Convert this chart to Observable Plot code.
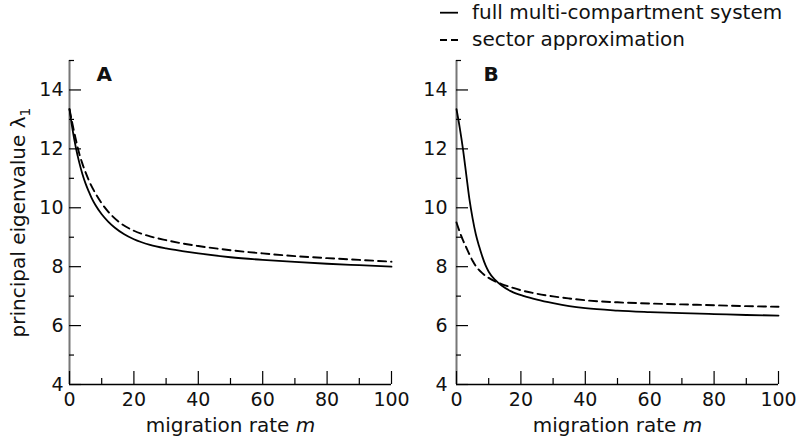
<!DOCTYPE html>
<html><head><meta charset="utf-8">
<script src="https://cdn.jsdelivr.net/npm/d3@7"></script>
<script src="https://cdn.jsdelivr.net/npm/@observablehq/plot@0.6"></script>
<style>
body{margin:0;background:#fff;}
#wrap{position:relative;width:800px;height:439px;overflow:hidden;font-family:"DejaVu Sans",sans-serif;background:#fff;}
#wrap > svg{position:absolute;top:0;}
</style></head><body><div id="wrap"></div>
<script>
// Panel A — full multi-compartment system (solid)
const mSolidA = [0,1,2,3,4,5,6,7,8,10,12,14,17,20,25,30,35,40,50,60,70,80,90,100];
const solidA  = [13.35,12.62,12.03,11.55,11.15,10.82,10.55,10.3,10.1,9.78,9.53,9.33,9.1,8.93,8.74,8.62,8.53,8.45,8.32,8.23,8.16,8.1,8.05,8.0];
// Panel A — sector approximation (dashed)
const mDashA  = [0,1,2,3,4,5,6,8,10,12,15,20,25,30,35,40,50,60,70,80,90,100];
const dashA   = [13.35,12.8,12.3,11.85,11.5,11.2,10.93,10.5,10.15,9.87,9.55,9.22,9.03,8.9,8.79,8.7,8.56,8.45,8.36,8.29,8.23,8.17];
// Panel B — full multi-compartment system (solid)
const mSolidB = [0,1,2,3,4,5,6,7,8,9,10,12,14,17,21,25,30,35,40,50,60,70,80,90,100];
const solidB  = [13.35,12.72,12.0,11.15,10.3,9.64,9.1,8.7,8.35,8.05,7.83,7.55,7.36,7.16,7.0,6.88,6.76,6.66,6.59,6.51,6.46,6.42,6.39,6.36,6.34];
// Panel B — sector approximation (dashed)
const mDashB  = [0,1,2,3,4,5,6,8,10,12,14,17,20,25,30,35,40,50,60,70,80,90,100];
const dashB   = [9.5,9.18,8.9,8.66,8.42,8.2,8.02,7.78,7.62,7.5,7.41,7.3,7.2,7.08,6.99,6.92,6.86,6.79,6.75,6.72,6.69,6.66,6.64];

const yMajor = [4,6,8,10,12,14];
const yMinor = [5,7,9,11,13,15];
const xMajor = [0,20,40,60,80,100];
const xMinor = [10,30,50,70,90];
const legendLabels = ["full multi-compartment system","sector approximation"];
const panelLetters = ["A","B"];
const xLabel = "migration rate m";
const yLabel = "principal eigenvalue λ1";

const rows = (ms, vs) => ms.map((m, i) => ({m, v: vs[i]}));

function panel({solid, dashed, letter, marginLeft, marginRight, tickPad, withYLabel}) {
  const marks = [
    Plot.ruleY([4], {stroke: "#000", strokeWidth: 1.5}),
    Plot.ruleX([0], {stroke: "#777", strokeWidth: 2}),
    Plot.axisY(yMajor, {tickSize: -12, fill: null, stroke: "#000", strokeWidth: 1.2, label: null}),
    Plot.axisY(yMinor, {tickSize: -5, fill: null, stroke: "#000", strokeWidth: 1.2, label: null}),
    Plot.axisX(xMajor, {tickSize: -13, fill: null, stroke: "#000", strokeWidth: 1.2, label: null}),
    Plot.axisX(xMinor, {tickSize: -6, fill: null, stroke: "#000", strokeWidth: 1.2, label: null}),
    Plot.text(yMajor, {y: d => d, text: d => `${d}`, frameAnchor: "left", dx: -tickPad, textAnchor: "end", lineAnchor: "middle", fontSize: 19, fill: "#111"}),
    Plot.text(xMajor, {x: d => d, text: d => `${d}`, frameAnchor: "bottom", dy: 8, textAnchor: "middle", lineAnchor: "top", fontSize: 19, fill: "#111"}),
    Plot.line(solid, {x: "m", y: "v", stroke: "#000", strokeWidth: 1.8, curve: "monotone-x"}),
    Plot.line(dashed, {x: "m", y: "v", stroke: "#000", strokeWidth: 1.9, strokeDasharray: "8,5", curve: "monotone-x"}),
    Plot.text([letter], {text: d => d, frameAnchor: "top-left", dx: 27, dy: 6, lineAnchor: "top", textAnchor: "start", fontWeight: "bold", fontSize: 20, fill: "#111"}),
    Plot.text([xLabel], {text: d => d, frameAnchor: "bottom", dy: 47, lineAnchor: "bottom", fontSize: 20, fill: "#111"})
  ];
  if (withYLabel) {
    marks.push(Plot.text([yLabel], {text: d => d, frameAnchor: "left", dx: -51, rotate: -90, lineAnchor: "middle", textAnchor: "middle", fontSize: 20, fill: "#111"}));
  }
  return Plot.plot({
    width: 400, height: 439,
    marginLeft, marginRight, marginTop: 60, marginBottom: 55,
    style: {fontFamily: "DejaVu Sans, sans-serif", background: "transparent", overflow: "visible"},
    x: {domain: [0, 100], label: null},
    y: {domain: [4, 15], label: null},
    marks
  });
}

const wrap = document.getElementById("wrap");
const a = panel({solid: rows(mSolidA, solidA), dashed: rows(mDashA, dashA), letter: panelLetters[0], marginLeft: 69, marginRight: 9, tickPad: 6, withYLabel: true});
const b = panel({solid: rows(mSolidB, solidB), dashed: rows(mDashB, dashB), letter: panelLetters[1], marginLeft: 56, marginRight: 22, tickPad: 9, withYLabel: false});
a.style.left = "0px"; b.style.left = "400px";
wrap.appendChild(a); wrap.appendChild(b);

// rich text: italic m, subscript 1
d3.select(wrap).selectAll("text").each(function() {
  const t = this.textContent;
  if (t === xLabel) {
    const s = d3.select(this); s.text(null);
    s.append("tspan").text("migration rate ");
    s.append("tspan").attr("font-style", "italic").text("m");
  } else if (t === yLabel) {
    const s = d3.select(this); s.text(null);
    s.append("tspan").text("principal eigenvalue λ");
    s.append("tspan").attr("font-size", 14).attr("dy", 5).text("1");
  }
});

// legend
const lg = d3.select(wrap).append("svg").attr("width", 800).attr("height", 60)
  .style("left", "0px").style("pointer-events", "none");
const items = [{y: 12.7, dash: null}, {y: 40, dash: "7,4"}];
items.forEach((it, i) => {
  lg.append("line").attr("x1", 440).attr("x2", 458).attr("y1", it.y).attr("y2", it.y)
    .attr("stroke", "#000").attr("stroke-width", 1.8).attr("stroke-dasharray", it.dash);
  lg.append("text").attr("x", 472).attr("y", it.y + 6.3).attr("font-size", 20)
    .attr("font-family", "DejaVu Sans, sans-serif").attr("fill", "#111").text(legendLabels[i]);
});
</script></body></html>
